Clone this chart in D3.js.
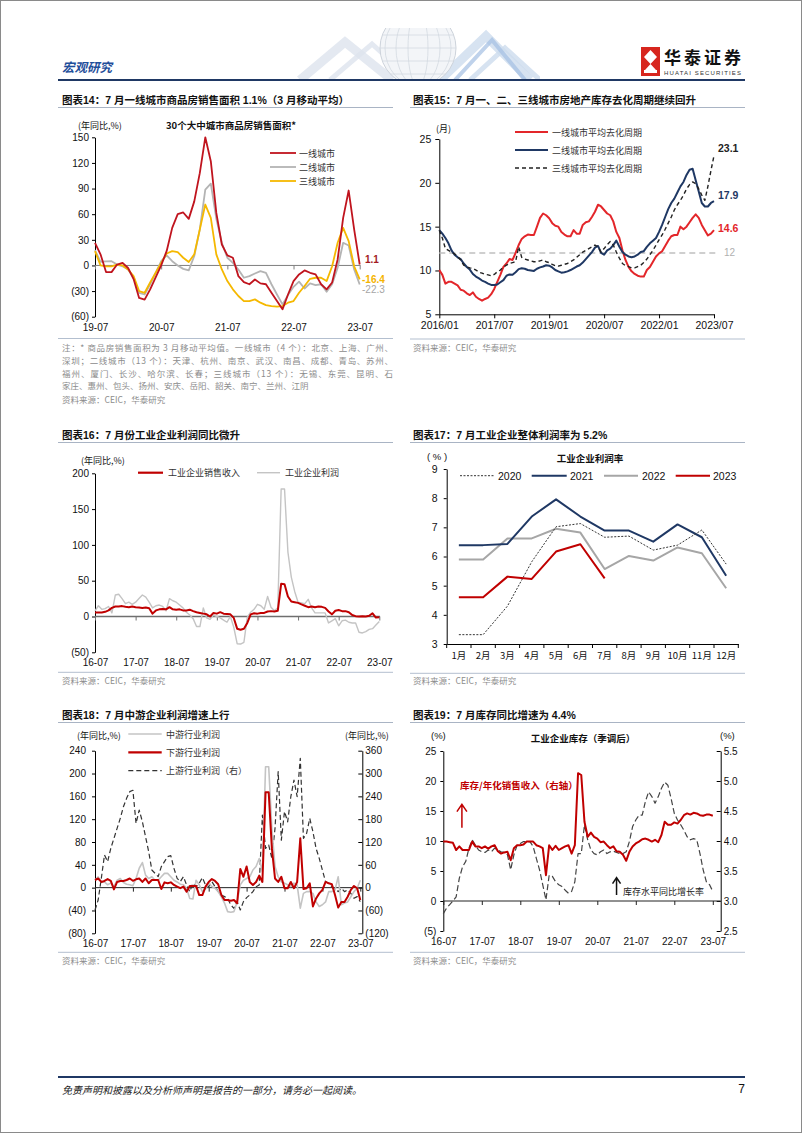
<!DOCTYPE html>
<html><head><meta charset="utf-8">
<script src="https://cdn.jsdelivr.net/npm/d3@7"></script>
<style>body{margin:0;background:#fff}svg{display:block}</style>
</head><body>
<script>
// ================= DATA =================
const c14Ticks = ["19-07","20-07","21-07","22-07","23-07"];
const c14Names = ["一线城市","二线城市","三线城市"];
const c14Tier1 = [26.5,13,-7.8,-7.8,1,3,-3,-16,-38,-40,-28,-14,0,17,44,60,62,54.5,75,108,150,122,61.5,24.5,11.7,9,-12.5,-19.5,-22,-16.4,-21,-22,-32,-41.7,-51.4,-34,-18.3,-10.5,-5.8,-8.6,-10.5,-22,-28,-20,7,55.7,87.7,42,1.1];
const c14Tier2 = [18,4.3,4.7,5,1,-1,-4.7,-14.4,-32,-34,-22,-8.6,5,11.7,5,0,-4,-5.8,11,42,88.8,95.8,54.5,26.5,9,3,-4.7,-14.4,-12.5,-9.4,-6.6,-8.6,-22,-34,-45.6,-34.7,-25,-19,-27,-21,-23,-22,-30.8,-22,-2.7,26.5,23.4,-4.7,-22.3];
const c14Tier3 = [16.7,0,-1,-1,1,0,-4.7,-12.5,-30,-32,-20,-8.6,3,14,16.7,15.6,9,4,13,42,71.3,55.7,13,-4.7,-18.3,-28,-35.8,-41.7,-41.7,-39.7,-43.6,-46.4,-47.5,-48.3,-47.5,-43.6,-41.7,-32,-24,-15.6,-14.4,-14.4,-18.3,-1,26.5,44,28.4,-1,-16.4];

const c15Ticks = ["2016/01","2017/07","2019/01","2020/07","2022/01","2023/07"];
const c15Names = ["一线城市平均去化周期","二线城市平均去化周期","三线城市平均去化周期"];
const c15Tier1 = [10.06,9.5,8.5,8.7,8.7,8.5,8.3,7.8,7.7,7.4,7.2,7.5,7.0,6.75,6.55,6.75,6.9,7.3,7.9,8.7,9.5,10.4,10.8,11.3,11.2,12.0,12.9,13.6,13.9,14.1,14.05,14.05,15.0,16.0,16.5,16.3,15.95,15.4,15.1,15.0,14.4,14.1,13.9,13.9,14.6,14.2,14.2,15.2,15.5,15.6,16.1,16.7,17.5,17.3,16.9,16.5,16.3,15.6,14.4,13.7,12.3,11.2,10.4,9.9,9.6,9.4,9.3,9.3,10.05,10.4,11.0,11.6,11.95,12.2,12.8,13.4,13.9,14.05,14.05,15.0,14.7,15.0,15.5,16.0,16.4,16.0,15.2,14.6,14.0,14.2,14.6];
const c15Tier2 = [14.6,14.2,13.7,13.1,12.3,11.8,11.5,11.3,10.8,10.4,10.1,9.6,9.3,9.1,8.85,8.7,8.5,8.35,8.35,8.4,8.65,8.9,9.4,9.55,9.5,9.8,10.15,10.25,10.2,10.05,10.0,9.95,10.2,10.35,10.45,10.6,10.55,10.35,10.05,9.9,9.75,9.8,9.9,10.05,10.25,10.45,10.6,10.9,11.3,11.7,12.1,12.6,12.8,12.0,11.8,12.3,12.5,12.9,13.4,12.7,12.1,11.8,11.6,11.5,11.6,11.8,12.1,12.2,12.7,13.1,13.4,13.7,14.4,15.2,16.1,17.0,17.7,18.2,18.9,19.6,20.1,20.9,21.5,21.6,20.3,19.0,17.7,17.3,17.3,17.7,17.9];
const c15Tier3 = [14.6,13.7,12.5,12.3,12.1,11.9,11.6,11.2,10.6,10.4,10.3,10.25,10.05,9.8,9.7,9.55,9.5,9.4,9.55,9.85,10.05,10.4,10.6,10.8,10.9,11.0,12.7,11.5,11.3,11.2,11.1,11.0,11.0,11.1,11.2,11.0,10.9,10.7,10.55,10.5,10.6,10.7,10.8,11.0,11.2,11.5,11.8,12.1,12.3,12.5,12.7,12.9,12.7,12.1,12.5,12.95,13.3,12.9,12.1,11.4,10.8,10.55,10.45,10.3,10.3,10.45,10.6,10.9,11.3,11.8,12.3,12.9,13.5,14.05,14.7,15.4,16.1,16.9,17.5,18.0,18.6,19.3,19.8,20.1,19.9,19.3,18.6,18.0,19.6,21.4,23.1];
const c15Line = 12;

const c16Ticks = ["16-07","17-07","18-07","19-07","20-07","21-07","22-07","23-07"];
const c16Names = ["工业企业销售收入","工业企业利润"];
const c16Revenue = [5.5,5.6,5.6,6.5,8.5,12,14,14,14.5,13.5,13,14,13,12.5,12,12.5,11.5,4,8.5,10,10.5,10,13,10,9.5,10,8.5,8.5,9.5,7.5,6,5,4,3,0,5,4,6,4,3.5,3,-2,-17,-18.5,-17,-9,3,4.5,4,5,5,7,7.5,7,8,45.6,45,28,21,20,19,17,15,13,14,13,14,13.5,12,7,3,8,9,7.5,7.5,6,2,0.5,0,0.5,0,1,4.5,-1.5,-1];
const c16Profit = [8,15,10,11,14,5,30,31,25,18,20,17,20,25,30,27,20,12,15,16,14,8,25,22,20,16,12,6,2,-3,-14,-14,12,-2,-4,2,0,-2,-5,-8,0,-15,-38,-38.5,-36,-1,6,10,17,15,10,28,13,8,12,178,178,90,55,35,20,19,18,24,12,5,5,5,5,-9,-6,-3,-13,-6,-5,-8,-9,-9,-22,-23,-21,-18,-17,-12,-7];

const c17Months = ["1月","2月","3月","4月","5月","6月","7月","8月","9月","10月","11月","12月"];
const c17Years = ["2020","2021","2022","2023"];
const c17Y2020 = [3.32,3.32,4.3,5.82,7.02,7.13,6.66,6.70,6.22,6.39,6.91,5.74];
const c17Y2021 = [6.39,6.39,6.43,7.37,7.96,7.37,6.89,6.89,6.51,7.10,6.66,5.34];
const c17Y2022 = [5.9,5.9,6.62,6.62,6.95,6.82,5.57,6.02,5.86,6.31,6.11,4.91];
const c17Y2023 = [4.6,4.6,5.31,5.23,6.17,6.42,5.25];

const c18Ticks = ["16-07","17-07","18-07","19-07","20-07","21-07","22-07","23-07"];
const c18Names = ["中游行业利润","下游行业利润","上游行业利润（右）"];
const c18Mid = [13.4,19,10,10,5,8,2,13,16,9,6,5,3.5,16,34,44,22,16,19,13,13,19,25,25,19,13,10,6,5,-1,-19,-20,13,5,-7,-2,8,2,-1,-7,-16,-27,-42,-43,-42,-25,5,13,16,19,31,37,51,28,212,212,104,37,19,10,8,5,2,8,5,-36,-10,-7,-7,-10,-25,-33,-30,-25,-7,-7,-4,19,-30,-27,-25,-16,-7,-1,13];
const c18Down = [13.4,16,10,11.7,15,12,-3,10,11.7,11.7,13.4,16,12,14.6,16,10,16,7.6,13.4,13.4,13.4,-2.3,9.3,7.6,9.3,4.7,1.8,-1,1.8,-7,3,3,3,-13,-13,1.8,10,15,11.7,6,-13,-21.6,-21.6,-23,-21.6,-27.4,32.7,19,37,10,4.7,10,21,10,167,167,69,16,10,19,-1,-1,10,-1,10,86.4,-2.3,-1,7.6,-33,-19,-10,-4,10,7.6,6,-13,-35,-25,-25,-16,-4,3,-1,-21.6];
const c18Up = [-58.7,-32.4,24.5,85.8,68.3,103.4,129.6,155.9,182.2,212.8,234.7,252.3,256,169,204,173.4,134,94.6,46.4,37.7,28.9,55.2,68.3,81.5,84,50.8,24.5,15.8,28.9,7,-10.5,11.4,2.6,11.4,26.3,7,2.6,15.8,2.6,-10.5,-19.3,-23.6,-28,-45.5,-54.3,-36.8,-58.7,-36.8,-26.3,-19.3,-10.5,2.6,7,191,103,112,77,156,305,125,200,173,239,283,239,340,129.6,142.8,182,147,103,77,46,15.8,11.4,2.6,-1.7,-10.5,-1.7,-10.5,-6,-14.9,-28,-23.6,-36.8];

const c19Ticks = ["16-07","17-07","18-07","19-07","20-07","21-07","22-07","23-07"];
const c19Growth = [-2.1,-1.2,-0.6,0,0.7,3.8,5.7,6.6,8.8,10.2,9.3,8.5,8.2,8.1,8.5,8.2,8.8,8.5,8.2,8.1,7.7,5.2,7.7,9.3,9.6,9.9,9.9,9.9,9.1,7.1,5.2,2.7,0.2,4.3,4.1,3.2,2.7,2.4,1.8,1.3,1.6,3.2,7.9,7.9,12.7,10.2,8.5,7.9,7.7,8.2,8.5,7.9,8.2,8.3,8.1,7.9,7.9,8.2,9.9,12.4,13.5,14.3,14.3,16.6,18.2,17.4,16.3,17.4,18.8,19.8,19.3,17.1,14.6,13.5,12.7,11.8,10.7,10.2,10.4,10.2,7.9,5.2,3.2,2.7,1.6];
const c19Ratio = [3.99,3.99,3.98,3.97,3.85,3.91,3.85,3.85,3.85,3.99,3.91,3.91,3.88,3.91,3.87,3.91,3.93,3.83,3.79,3.81,3.82,3.68,3.88,3.93,3.93,3.94,3.99,3.99,3.99,3.93,3.91,3.88,3.43,3.93,3.85,3.92,3.85,3.88,3.91,3.93,3.79,3.93,5.13,5.1,4.32,4.07,4.14,4.07,4.04,3.98,3.99,3.93,3.88,3.91,3.83,3.82,3.77,3.67,3.82,3.91,3.96,3.99,4.03,4.04,4.02,3.99,4.02,3.98,4.1,4.32,4.27,4.27,4.31,4.29,4.35,4.43,4.46,4.44,4.47,4.46,4.43,4.42,4.44,4.44,4.42];

// ================= HELPERS =================
const LAT = "'Liberation Sans', Arial, 'Noto Sans CJK SC', sans-serif";
const CJK = "'Noto Sans CJK SC', sans-serif";
const svg = d3.select("body").append("svg").attr("width",802).attr("height",1133);
svg.append("rect").attr("width",802).attr("height",1133).attr("fill","#fff");

function txt(x,y,s,o={}){
  const t = svg.append("text").attr("x",x).attr("y",y).text(s)
    .attr("font-family",o.ff||CJK).attr("font-size",o.fs||9)
    .attr("font-weight",o.fw||"normal").attr("fill",o.fill||"#000")
    .attr("text-anchor",o.anchor||"start").attr("dominant-baseline","central");
  if(o.style) t.attr("font-style",o.style);
  if(o.len) t.attr("textLength",o.len).attr("lengthAdjust","spacing");
  return t;
}
function ln(x0,y0,x1,y1,stroke,w,dash){
  const l = svg.append("line").attr("x1",x0).attr("y1",y0).attr("x2",x1).attr("y2",y1)
    .attr("stroke",stroke).attr("stroke-width",w||1);
  if(dash) l.attr("stroke-dasharray",dash);
  return l;
}
const negFmt = v => v<0 ? "("+Math.abs(v)+")" : String(v);
function styleAxis(g,color,fs){
  g.attr("font-family",LAT).attr("font-size",fs||10);
  g.select(".domain").attr("stroke",color||"#000");
  g.selectAll(".tick line").attr("stroke",color||"#000");
  g.selectAll(".tick text").attr("fill","#111");
}
function title(x,y,s,lx0,lx1){
  txt(x,y,s,{fs:10.5,fw:"bold",ff:LAT,fill:"#111"});
  ln(lx0,y+7.5,lx1,y+7.5,"#a9b4c4",1);
}
function source(x,y,lx0,lx1,ly){
  ln(lx0,ly,lx1,ly,"#b3bfcf",1);
  txt(x,y,"资料来源：CEIC，华泰研究",{fs:8.5,fill:"#8c8c8c",ff:CJK});
}
function lineSeries(data,x,y,stroke,w,dash){
  const p = svg.append("path").datum(data)
    .attr("d",d3.line().x((d,i)=>x(i)).y(d=>y(d)))
    .attr("fill","none").attr("stroke",stroke).attr("stroke-width",w)
    .attr("stroke-linejoin","round");
  if(dash) p.attr("stroke-dasharray",dash);
  return p;
}
// month axis: ticks on zero line, labels lower
function monthAxis(x,yLine,yLab,idx,labels,color,x0,x1,w){
  ln(x0,yLine,x1,yLine,color,w||1);
  const a = svg.append("g").attr("transform",`translate(0,${yLine})`)
    .call(d3.axisBottom(x).tickValues(idx).tickFormat("").tickSize(4).tickSizeOuter(0));
  a.select(".domain").remove();
  a.selectAll(".tick line").attr("stroke",color);
  const b = svg.append("g").attr("transform",`translate(0,${yLab-5})`)
    .call(d3.axisBottom(x).tickValues(idx).tickFormat((d,i)=>labels[i]).tickSize(0).tickPadding(0));
  b.select(".domain").remove();
  styleAxis(b,"#000",10);
}

// ================= HEADER =================
const defs = svg.append("defs");
defs.append("clipPath").attr("id","hdrclip").append("rect").attr("x",280).attr("y",28).attr("width",260).attr("height",51);
const deco = svg.append("g").attr("clip-path","url(#hdrclip)");
[[300,80,345,42,392,80],[330,80,372,44,412,80],[440,80,486,36,530,80],[470,80,505,48,540,80]].forEach((p,i)=>{
  deco.append("polyline").attr("points",`${p[0]},${p[1]} ${p[2]},${p[3]} ${p[4]},${p[5]}`)
    .attr("fill","none").attr("stroke",i<2?"#dde4ee":"#cddcee").attr("stroke-width",i%2?5:9).attr("opacity",0.8);
});
deco.append("circle").attr("cx",418).attr("cy",48).attr("r",38).attr("fill","#f3f5f8").attr("stroke","#cdd3db").attr("stroke-width",1);
[10,22,33].forEach(rx=>deco.append("ellipse").attr("cx",418).attr("cy",48).attr("rx",rx).attr("ry",38).attr("fill","none").attr("stroke","#d3d9e1").attr("stroke-width",0.8));
[-26,-13,0,13,26].forEach(dy=>{const hw=Math.sqrt(38*38-dy*dy);deco.append("line").attr("x1",418-hw).attr("x2",418+hw).attr("y1",48+dy).attr("y2",48+dy).attr("stroke","#d3d9e1").attr("stroke-width",0.8);});
deco.append("polyline").attr("points","455,80 492,40 525,80").attr("fill","none").attr("stroke","#a4bfe2").attr("stroke-width",4).attr("opacity",0.7);

txt(62,66,"宏观研究",{fs:12.5,fw:"bold",fill:"#1f4e9a",style:"italic"});
// logo
svg.append("rect").attr("x",641).attr("y",47).attr("width",19).attr("height",29).attr("fill","#d7261e");
svg.append("path").attr("d","M650.5,50 L657,57 L650.5,64 L644,57 Z M650.5,64 L656,70 L645,70 Z").attr("fill","#fff");
svg.append("rect").attr("x",644).attr("y",70).attr("width",13).attr("height",3).attr("fill","#fff");
txt(664,56,"华泰证券",{fs:17,fw:"bold",fill:"#111",len:77});
txt(664,72.5,"HUATAI SECURITIES",{fs:6,ff:LAT,fill:"#333",len:77});
ln(58,80,745,80,"#1f3864",2);

// ================= CHART 14 =================
title(62,100,"图表14：7 月一线城市商品房销售面积 1.1%（3 月移动平均）",58,393);
{
  const x = d3.scaleLinear().domain([0,48]).range([95,359.7]);
  const y = d3.scaleLinear().domain([-60,150]).range([316.7,137.3]);
  const ya = svg.append("g").attr("transform","translate(95,0)")
    .call(d3.axisLeft(y).tickValues([-60,-30,0,30,60,90,120,150]).tickFormat(negFmt).tickSize(3).tickPadding(3).tickSizeOuter(0));
  styleAxis(ya,"#000",10);
  monthAxis(x,y(0),329,[0,12,24,36,48],c14Ticks,"#7f7f7f",95,360.5);
  lineSeries(c14Tier2,x,y,"#b4b4b4",1.8);
  lineSeries(c14Tier3,x,y,"#f5b800",1.8);
  lineSeries(c14Tier1,x,y,"#c0141e",1.8);
  txt(78,125,"(年同比,%)",{fs:9,fill:"#111"});
  txt(231,125,"30个大中城市商品房销售面积*",{fs:9.5,fw:"bold",fill:"#111",anchor:"middle"});
  const cols = ["#c0141e","#b4b4b4","#f5b800"];
  [153,167,181].forEach((yy,i)=>{ln(270,yy,296,yy,cols[i],1.8);txt(299,yy,c14Names[i],{fs:9,fill:"#333"});});
  txt(365,y(c14Tier1[48])-5,"1.1",{fs:10,fw:"bold",ff:LAT,fill:"#a31a22"});
  txt(362,y(c14Tier3[48]),"-16.4",{fs:10,fw:"bold",ff:LAT,fill:"#f5b400"});
  txt(362,y(c14Tier2[48])+5,"-22.3",{fs:10,ff:LAT,fill:"#a6a6a6"});
  ln(58,338.5,393,338.5,"#b3bfcf",1);
  const notes = ["注：* 商品房销售面积为 3 月移动平均值。一线城市（4 个）：北京、上海、广州、",
    "深圳；二线城市（13 个）：天津、杭州、南京、武汉、南昌、成都、青岛、苏州、",
    "福州、厦门、长沙、哈尔滨、长春；三线城市（13 个）：无锡、东莞、昆明、石",
    "家庄、惠州、包头、扬州、安庆、岳阳、韶关、南宁、兰州、江阴"];
  notes.forEach((s,i)=>txt(62,347+i*12.8,s,{fs:8.5,fill:"#8c8c8c",len:i<3?331:null}));
  txt(62,398.5,"资料来源：CEIC，华泰研究",{fs:8.5,fill:"#8c8c8c"});
}

// ================= CHART 15 =================
title(413,100,"图表15：7 月一、二、三线城市房地产库存去化周期继续回升",410,745);
{
  const x = d3.scaleLinear().domain([0,90]).range([439.3,714]);
  const y = d3.scaleLinear().domain([5,25]).range([314.3,139]);
  const ya = svg.append("g").attr("transform","translate(439.3,0)")
    .call(d3.axisLeft(y).tickValues([5,10,15,20,25]).tickFormat(d3.format("d")).tickSize(4).tickPadding(4).tickSizeOuter(0));
  styleAxis(ya,"#000",10.5);
  const xa = svg.append("g").attr("transform","translate(0,314.3)")
    .call(d3.axisBottom(x).tickValues([0,18,36,54,72,90]).tickFormat((d,i)=>c15Ticks[i]).tickSize(4).tickPadding(3).tickSizeOuter(0));
  styleAxis(xa,"#000",10.5);
  ln(439.3,y(c15Line),717,y(c15Line),"#c0c0c0",1.5,"6,4");
  lineSeries(c15Tier1,x,y,"#e3262a",2);
  lineSeries(c15Tier2,x,y,"#1f3864",2);
  lineSeries(c15Tier3,x,y,"#222",1.4,"4,3");
  txt(436,128,"(月)",{fs:9,fill:"#111"});
  const st = [["#e3262a",2,null],["#1f3864",2,null],["#222",1.4,"4,3"]];
  [132,150,168].forEach((yy,i)=>{ln(515,yy,548,yy,st[i][0],st[i][1],st[i][2]);txt(552,yy,c15Names[i],{fs:9,fill:"#333"});});
  txt(718,y(c15Tier3[90])-8,"23.1",{fs:10.5,fw:"bold",ff:LAT,fill:"#222"});
  txt(718,y(c15Tier2[90])-6,"17.9",{fs:10.5,fw:"bold",ff:LAT,fill:"#1f3864"});
  txt(718,y(c15Tier1[90])-2,"14.6",{fs:10.5,fw:"bold",ff:LAT,fill:"#e3262a"});
  txt(724,y(c15Line),"12",{fs:10,ff:LAT,fill:"#b0b0b0"});
  source(413,347,410,745,339);
}

// ================= CHART 16 =================
title(62,435,"图表16：7 月份工业企业利润同比微升",58,393);
{
  const x = d3.scaleLinear().domain([0,84]).range([95,379.3]);
  const y = d3.scaleLinear().domain([-50,200]).range([652.3,473.3]);
  const ya = svg.append("g").attr("transform","translate(95,0)")
    .call(d3.axisLeft(y).tickValues([-50,0,50,100,150,200]).tickFormat(negFmt).tickSize(3).tickPadding(3).tickSizeOuter(0));
  styleAxis(ya,"#000",10);
  monthAxis(x,y(0),664,[0,12,24,36,48,60,72,84],c16Ticks,"#6f6f6f",95,380,1.5);
  lineSeries(c16Profit,x,y,"#c4c4c4",1.4);
  lineSeries(c16Revenue,x,y,"#c00000",2);
  txt(81,460,"(年同比,%)",{fs:9,fill:"#111"});
  ln(138,472.7,163,472.7,"#c00000",2.2); txt(168,472.7,c16Names[0],{fs:9,fill:"#333"});
  ln(257,472.7,280,472.7,"#c4c4c4",1.4); txt(285,472.7,c16Names[1],{fs:9,fill:"#333"});
  source(62,680,58,393,672.3);
}

// ================= CHART 17 =================
title(413,435,"图表17：7 月工业企业整体利润率为 5.2%",410,745);
{
  const x = d3.scaleBand().domain(c17Months).range([446.7,738.3]);
  const y = d3.scaleLinear().domain([3,9]).range([644,469]);
  const ya = svg.append("g").attr("transform","translate(446.7,0)")
    .call(d3.axisLeft(y).tickValues([3,4,5,6,7,8,9]).tickFormat(d3.format("d")).tickSize(3).tickPadding(6).tickSizeOuter(0));
  styleAxis(ya,"#000",10.5);
  const xa = svg.append("g").attr("transform","translate(0,644)")
    .call(d3.axisBottom(x).tickSize(0).tickPadding(8));
  styleAxis(xa,"#000",10);
  xa.selectAll(".tick text").attr("font-family",CJK).attr("font-size",9.5);
  c17Months.forEach(m=>ln(x(m),644,x(m),648,"#000",1));
  ln(738.3,644,738.3,648,"#000",1);
  const cx = i => x(c17Months[i]) + x.bandwidth()/2;
  const mk = (data,stroke,w,dash)=>{
    const p = svg.append("path").datum(data).attr("d",d3.line().x((d,i)=>cx(i)).y(d=>y(d)))
      .attr("fill","none").attr("stroke",stroke).attr("stroke-width",w).attr("stroke-linejoin","round");
    if(dash) p.attr("stroke-dasharray",dash);
  };
  mk(c17Y2022,"#a6a6a6",2);
  mk(c17Y2021,"#1f3864",2);
  mk(c17Y2020,"#333",1,"2,1.5");
  mk(c17Y2023,"#c00000",2);
  txt(427,456.7,"( % )",{fs:9.5,ff:LAT,fill:"#111"});
  txt(590,458,"工业企业利润率",{fs:9.5,fw:"bold",fill:"#111",anchor:"middle"});
  const lg = [[460,495,498,"#333",1,"2,1.5"],[531.7,566.7,570,"#1f3864",2,null],[604,638,642,"#a6a6a6",2,null],[675.7,710,713,"#c00000",2,null]];
  lg.forEach((l,i)=>{ln(l[0],475.7,l[1],475.7,l[3],l[4],l[5]);txt(l[2],475.7,c17Years[i],{fs:10.5,ff:LAT,fill:"#111"});});
  source(413,680,410,745,673.3);
}

// ================= CHART 18 =================
title(62,715,"图表18：7 月中游企业利润增速上行",58,393);
{
  const x = d3.scaleLinear().domain([0,84]).range([95,360.3]);
  const yL = d3.scaleLinear().domain([-80,240]).range([933.3,750.7]);
  const yR = d3.scaleLinear().domain([-120,360]).range([933.3,750.7]);
  const ya = svg.append("g").attr("transform","translate(95,0)")
    .call(d3.axisLeft(yL).tickValues([-80,-40,0,40,80,120,160,200,240]).tickFormat(negFmt).tickSize(3).tickPadding(6).tickSizeOuter(0));
  styleAxis(ya,"#000",10);
  const yr = svg.append("g").attr("transform","translate(362.3,0)")
    .call(d3.axisRight(yR).tickValues([-120,-60,0,60,120,180,240,300,360]).tickFormat(negFmt).tickSizeInner(-4).tickPadding(3).tickSizeOuter(0));
  styleAxis(yr,"#000",10);
  monthAxis(x,yL(0),945,[0,12,24,36,48,60,72,84],c18Ticks,"#222",95,362.3);
  lineSeries(c18Up,x,yR,"#333",1.2,"5,3");
  lineSeries(c18Mid,x,yL,"#c4c4c4",1.6);
  lineSeries(c18Down,x,yL,"#c00000",2);
  txt(77,735,"(年同比,%)",{fs:9,fill:"#111"});
  txt(345,735,"(年同比,%)",{fs:9,fill:"#111"});
  const st = [["#c4c4c4",1.6,null],["#c00000",2.2,null],["#333",1.2,"5,3"]];
  [734,752.3,770.7].forEach((yy,i)=>{ln(128.3,yy,161.7,yy,st[i][0],st[i][1],st[i][2]);txt(166,yy,c18Names[i],{fs:9,fill:"#333"});});
  source(62,960,58,393,952.3);
}

// ================= CHART 19 =================
title(413,715,"图表19：7 月库存同比增速为 4.4%",410,745);
{
  const x = d3.scaleLinear().domain([0,84]).range([443.3,712.8]);
  const yL = d3.scaleLinear().domain([-5,25]).range([931,751]);
  const yR = d3.scaleLinear().domain([2.5,5.5]).range([931,751]);
  const ya = svg.append("g").attr("transform","translate(443.3,0)")
    .call(d3.axisLeft(yL).tickValues([-5,0,5,10,15,20,25]).tickFormat(negFmt).tickSize(3).tickPadding(4).tickSizeOuter(0));
  styleAxis(ya,"#000",10);
  const yr = svg.append("g").attr("transform","translate(720.7,0)")
    .call(d3.axisRight(yR).tickValues([2.5,3,3.5,4,4.5,5,5.5]).tickFormat(d3.format(".1f")).tickSizeInner(-4).tickPadding(3).tickSizeOuter(0));
  styleAxis(yr,"#000",10);
  monthAxis(x,yL(0),943,[0,12,24,36,48,60,72,84],c19Ticks,"#222",443.3,720.7);
  lineSeries(c19Growth,x,yL,"#444",1.2,"6,3");
  lineSeries(c19Ratio,x,yR,"#c00000",2);
  txt(431,735,"(%)",{fs:9.5,ff:LAT,fill:"#111"});
  txt(720,735,"(%)",{fs:9.5,ff:LAT,fill:"#111"});
  txt(583,738,"工业企业库存（季调后）",{fs:9.5,fw:"bold",fill:"#111",anchor:"middle"});
  txt(460,785,"库存/年化销售收入（右轴）",{fs:9.5,fw:"bold",fill:"#c00000"});
  // arrows placed in data units
  const ax1 = x(5.8), ax2 = x(54);
  svg.append("path").attr("d",`M${ax1},${yL(12.2)} V${yL(16.1)} M${ax1-5},${yL(14.9)} L${ax1},${yL(16.1)} L${ax1+5},${yL(14.9)}`)
    .attr("fill","none").attr("stroke","#c00000").attr("stroke-width",1.5);
  svg.append("path").attr("d",`M${ax2},${yL(1)} V${yL(3.9)} M${ax2-4},${yL(2.9)} L${ax2},${yL(3.9)} L${ax2+4},${yL(2.9)}`)
    .attr("fill","none").attr("stroke","#111").attr("stroke-width",1.5);
  txt(623,891,"库存水平同比增长率",{fs:9,fill:"#222"});
  source(413,960,410,745,952.3);
}

// ================= FOOTER =================
ln(58,1077,745,1077,"#1f3864",2);
txt(62,1089,"免责声明和披露以及分析师声明是报告的一部分，请务必一起阅读。",{fs:10,fill:"#222",style:"italic"});
txt(745,1089,"7",{fs:12,ff:LAT,fill:"#111",anchor:"end"});
svg.append("rect").attr("x",0.5).attr("y",0.5).attr("width",801).attr("height",1132).attr("fill","none").attr("stroke","#8a8a8a").attr("stroke-width",1);
</script>
</body></html>
